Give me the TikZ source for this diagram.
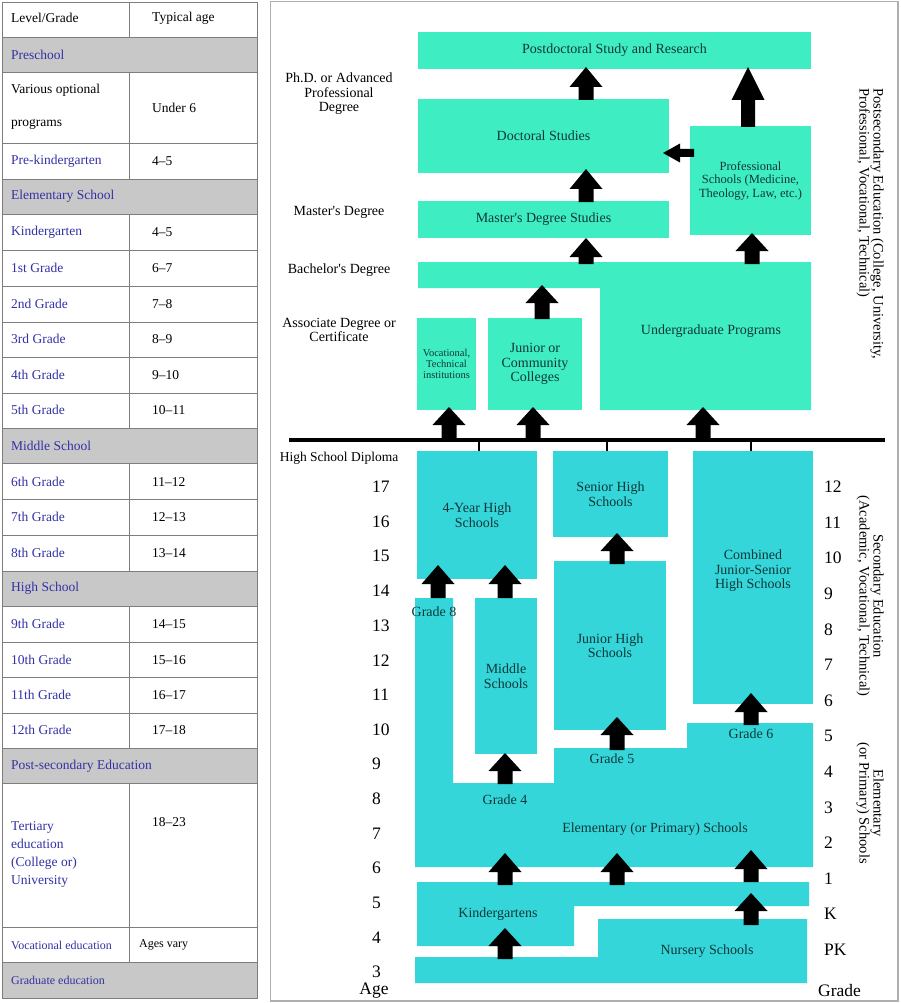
\documentclass[tikz,border=0pt]{standalone}
\usepackage{fontspec}
\setmainfont{Liberation Serif}
\definecolor{mint}{RGB}{62,238,194}
\definecolor{turq}{RGB}{52,214,218}
\definecolor{tblue}{RGB}{50,50,165}
\definecolor{tgray}{RGB}{200,200,200}
\definecolor{gline}{RGB}{125,125,125}
\definecolor{framec}{RGB}{175,175,175}
\definecolor{btext}{RGB}{15,55,55}
\newcommand\fsz[2]{\fontsize{#1}{#2}\selectfont}
% block arrow pointing up: x, bottom y, tip y, head length
\newcommand\blkup[4]{\fill[black] (#1-7.5,#2) -- (#1-7.5,#3+#4) -- (#1-16.5,#3+#4) -- (#1,#3) -- (#1+16.5,#3+#4) -- (#1+7.5,#3+#4) -- (#1+7.5,#2) -- cycle;}
\begin{document}
\begin{tikzpicture}[x=1pt,y=-1pt,
 ubox/.style={fill=mint, text=btext, font=\fsz{14}{14.5}, align=center, inner sep=0pt, outer sep=0pt},
 lbox/.style={fill=turq, text=btext, font=\fsz{14}{14.5}, align=center, inner sep=0pt, outer sep=0pt},
 lbl/.style={text=btext, font=\fsz{14}{14.5}, align=center, inner sep=0pt},
 side/.style={text=black, font=\fsz{14}{14.5}, align=center, inner sep=0pt},
 num/.style={text=black, font=\fsz{17.5}{18}, anchor=west, inner sep=0pt},
 rot/.style={text=black, font=\fsz{14.5}{14}, rotate=-90, inner sep=0pt},
 tl/.style={anchor=west, inner sep=0pt, font=\fsz{13.5}{18}},
 tblu/.style={tl, text=tblue},
 tblk/.style={tl, text=black},
 tsm/.style={anchor=west, inner sep=0pt, font=\fsz{12}{14}},
]
\useasboundingbox (0,0) rectangle (900,1003);
\fill[white] (0,0) rectangle (900,1003);

% ---------------- table ----------------
\foreach \a/\b in {37/72,179/214,428/463,571/606,748/783,962/998}
  \fill[tgray] (2,\a) rectangle (257,\b);
\foreach \y in {37,72,143,179,214,250,286,322,357,393,428,463,499,535,571,606,642,677,713,748,783,927,962}
  \draw[gline] (2,\y) -- (257,\y);
\draw[gline] (2,2) rectangle (257,998);
\foreach \a/\b in {2/37,72/179,214/428,463/571,606/748,783/962}
  \draw[gline] (129,\a) -- (129,\b);

\node[tblk] (h1) at (11,18) {Level/Grade};
\node[tblk] (h2) at (152,18) {Typical age};
\node[tblu] (r1) at (11,55) {Preschool};
\node[tblk] (r2) at (11,90) {Various optional};
\node[tblk] (r2b) at (11,124) {programs};
\node[tblk] (a2) at (152,108) {Under 6};
\node[tblu] (r3) at (11,161) {Pre-kindergarten};
\node[tblk] (a3) at (152,161) {4–5};
\node[tblu] (r4) at (11,196) {Elementary School};
\node[tblu] (r5) at (11,232) {Kindergarten};
\node[tblk] (a5) at (152,232) {4–5};
\node[tblu] (r6) at (11,268) {1st Grade};
\node[tblk] (a6) at (152,268) {6–7};
\node[tblu] (r7) at (11,304) {2nd Grade};
\node[tblk] (a7) at (152,304) {7–8};
\node[tblu] (r8) at (11,339) {3rd Grade};
\node[tblk] (a8) at (152,339) {8–9};
\node[tblu] (r9) at (11,375) {4th Grade};
\node[tblk] (a9) at (152,375) {9–10};
\node[tblu] (r10) at (11,410) {5th Grade};
\node[tblk] (a10) at (152,410) {10–11};
\node[tblu] (r11) at (11,446) {Middle School};
\node[tblu] (r12) at (11,482) {6th Grade};
\node[tblk] (a12) at (152,482) {11–12};
\node[tblu] (r13) at (11,517) {7th Grade};
\node[tblk] (a13) at (152,517) {12–13};
\node[tblu] (r14) at (11,553) {8th Grade};
\node[tblk] (a14) at (152,553) {13–14};
\node[tblu] (r15) at (11,588) {High School};
\node[tblu] (r16) at (11,624) {9th Grade};
\node[tblk] (a16) at (152,624) {14–15};
\node[tblu] (r17) at (11,660) {10th Grade};
\node[tblk] (a17) at (152,660) {15–16};
\node[tblu] (r18) at (11,695) {11th Grade};
\node[tblk] (a18) at (152,695) {16–17};
\node[tblu] (r19) at (11,730) {12th Grade};
\node[tblk] (a19) at (152,730) {17–18};
\node[tblu] (r20) at (11,766) {Post-secondary Education};
\node[tblu, align=left, font=\fsz{13.5}{18}] (r21) at (11,854) {Tertiary\\education\\(College or)\\University};
\node[tblk] (a21) at (152,822) {18–23};
\node[tsm, text=tblue] (r22) at (11,945) {Vocational education};
\node[tsm, text=black] (a22) at (139,945) {Ages vary};
\node[tsm, text=tblue] (r23) at (11,980) {Graduate education};

% ---------------- right panel ----------------
\draw[framec, line width=1.2pt] (270.5,1.5) rectangle (898,1001);

% upper (postsecondary) boxes
\node[ubox, minimum width=393pt, minimum height=37pt] (postdoc) at (614.5,50.5) {Postdoctoral Study and Research};
\node[ubox, minimum width=251pt, minimum height=74pt] (doct) at (543.5,136) {Doctoral Studies};
\node[ubox, minimum width=251pt, minimum height=37pt] (mast) at (543.5,219.5) {Master\textquotesingle s Degree Studies};
\node[ubox, minimum width=121pt, minimum height=109pt, font=\fsz{12.5}{13.5}] (prof) at (750.5,180.5) {Professional\\Schools (Medicine,\\Theology, Law, etc.)};
\fill[mint] (418,262) -- (811,262) -- (811,410) -- (600,410) -- (600,288) -- (418,288) -- cycle;
\node[lbl] (ugrad) at (711,331) {Undergraduate Programs};
\node[ubox, minimum width=59pt, minimum height=92pt, font=\fsz{10.5}{11}] (voc) at (446.5,364) {Vocational,\\Technical\\institutions};
\node[ubox, minimum width=94pt, minimum height=92pt] (jcc) at (535,364) {Junior or\\Community\\Colleges};

% lower boxes
\node[lbox, minimum width=120pt, minimum height=128pt] (hs4) at (477,515) {4-Year High\\Schools};
\node[lbox, minimum width=115pt, minimum height=86pt] (shs) at (610.5,494) {Senior High\\Schools};
\node[lbox, minimum width=120pt, minimum height=253pt] (cjs) at (753,577.5) {};
\node[lbl] (cjst) at (753,571) {Combined\\Junior-Senior\\High Schools};
\node[lbox, minimum width=112pt, minimum height=169pt] (jhs) at (610,645.5) {Junior High\\Schools};
\node[lbox, minimum width=62pt, minimum height=156pt] (mid) at (506,676) {Middle\\Schools};
\fill[turq] (415,598) -- (453,598) -- (453,783) -- (554,783) -- (554,748) -- (687,748) -- (687,723) -- (813,723) -- (813,867) -- (415,867) -- cycle;
\fill[turq] (417,882) -- (809,882) -- (809,906) -- (574,906) -- (574,946) -- (417,946) -- cycle;
\fill[turq] (598,919) -- (807,919) -- (807,983) -- (415,983) -- (415,957) -- (598,957) -- cycle;
\node[lbl] (g8) at (434,612) {Grade 8};
\node[lbl] (g6) at (751,734) {Grade 6};
\node[lbl] (g5) at (612,759) {Grade 5};
\node[lbl] (g4) at (505,800) {Grade 4};
\node[lbl] (elem) at (655,829) {Elementary (or Primary) Schools};
\node[lbl] (kind) at (498,914) {Kindergartens};
\node[lbl] (nurs) at (707,951) {Nursery Schools};

% diploma line
\draw[line width=4pt] (289,440) -- (885,440);
\foreach \x in {479,607,751}
  \draw[line width=2.5pt] (\x,440) -- (\x,451);

% arrows upper
\blkup{586}{100}{67}{20}
\blkup{586}{202}{169}{20}
\blkup{586}{264}{238}{19}
\fill[black] (741,127) -- (741,100) -- (731.5,100) -- (748,67) -- (764.5,100) -- (755,100) -- (755,127) -- cycle;
\blkup{752}{264}{233}{18}
\blkup{542}{319}{285}{18}
\blkup{449}{440}{407}{18}
\blkup{533}{440}{407}{18}
\blkup{703}{440}{407}{18}
\fill[black] (694,149) -- (680,149) -- (680,143.5) -- (663,153) -- (680,162.5) -- (680,157) -- (694,157) -- cycle;
% arrows lower
\blkup{438}{598}{565}{19}
\blkup{505}{598}{565}{19}
\blkup{617}{564}{533}{18}
\blkup{617}{750}{717}{18}
\blkup{751}{725}{693}{19}
\blkup{505}{784}{753}{18}
\blkup{505}{885}{853}{19}
\blkup{617}{885}{853}{19}
\blkup{751}{882}{850}{19}
\blkup{505}{959}{928}{18}
\blkup{751}{925}{893}{18}

% left labels
\node[side] (phd) at (339,94) {Ph.D. or Advanced\\Professional\\Degree};
\node[side] (msd) at (339,212) {Master\textquotesingle s Degree};
\node[side] (bad) at (339,270) {Bachelor\textquotesingle s Degree};
\node[side] (asd) at (339,330) {Associate Degree or\\Certificate};
\node[side, font=\fsz{13.5}{14}] (hsd) at (339,458) {High School Diploma};

% ages
\foreach \a in {3,...,17}
  \node[num] (age\a) at (372,{487+(17-\a)*34.64}) {\a};
\node[num, anchor=center] (agelbl) at (374,991) {Age};
% grades
\foreach \g/\i in {12/0,11/1,10/2,9/3,8/4,7/5,6/6,5/7,4/8,3/9,2/10,1/11,K/12,PK/13}
  \node[num] (gr\i) at (824,{487+\i*35.6}) {\g};
\node[num] (grlbl) at (818,991) {Grade};

% rotated side labels
\node[rot, align=left] (postsec) at (870,224) {Postsecondary Education (College, University,\\Professional, Vocational, Technical)};
\node[rot, align=center] (secd) at (870,596) {Secondary Education\\(Academic, Vocational, Technical)};
\node[rot, align=center] (elemd) at (870,803) {Elementary\\(or Primary) Schools};
\end{tikzpicture}
\end{document}
